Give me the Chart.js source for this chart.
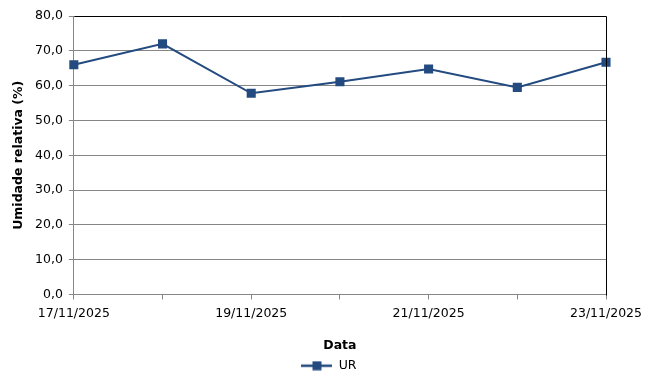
<!DOCTYPE html>
<html>
<head>
<meta charset="utf-8">
<script src="https://cdn.jsdelivr.net/npm/chart.js@4.4.0/dist/chart.umd.min.js"></script>
<style>
  html, body { margin: 0; padding: 0; background: #fff; }
  #wrap { width: 663px; height: 386px; position: relative; }
</style>
</head>
<body>
<div id="wrap"><canvas id="urChart"></canvas></div>
<script>
// data
const dates = ['17/11/2025', '18/11/2025', '19/11/2025', '20/11/2025', '21/11/2025', '22/11/2025', '23/11/2025'];
const urValues = [66.0, 72.0, 57.8, 61.1, 64.8, 59.5, 66.7];
const yTicks = [0, 10, 20, 30, 40, 50, 60, 70, 80];

const lineColor = '#234B80';
const fontFamily = '"DejaVu Sans", Verdana, sans-serif';

// legend symbol: short line with square marker
const legendIcon = document.createElement('canvas');
legendIcon.width = 31;
legendIcon.height = 10;
(function() {
    const c = legendIcon.getContext('2d');
    c.strokeStyle = lineColor;
    c.lineWidth = 2.5;
    c.beginPath();
    c.moveTo(0, 5);
    c.lineTo(31, 5);
    c.stroke();
    c.fillStyle = lineColor;
    c.fillRect(11, 0.5, 9, 9);
})();

// plot area border (top + right in black like Excel)
const plotBorder = {
    id: 'plotBorder',
    afterDatasetsDraw(chart) {
        const a = chart.chartArea;
        const ctx = chart.ctx;
        ctx.save();
        ctx.strokeStyle = '#000';
        ctx.lineWidth = 1;
        ctx.beginPath();
        ctx.moveTo(Math.round(a.left) + 0.5, Math.round(a.top) + 0.5);
        ctx.lineTo(Math.round(a.right) + 0.5, Math.round(a.top) + 0.5);
        ctx.lineTo(Math.round(a.right) + 0.5, Math.round(a.bottom) + 0.5);
        ctx.stroke();
        ctx.restore();
    }
};

Chart.defaults.font.family = fontFamily;
Chart.defaults.font.size = 12.5;
Chart.defaults.color = '#000';

new Chart(document.getElementById('urChart'), {
    type: 'line',
    data: {
        labels: dates,
        datasets: [{
            label: 'UR',
            data: urValues,
            borderColor: lineColor,
            backgroundColor: lineColor,
            borderWidth: 2,
            pointStyle: 'rect',
            pointRadius: 5,
            pointBackgroundColor: lineColor,
            pointBorderColor: lineColor,
            tension: 0,
            clip: false
        }]
    },
    options: {
        responsive: true,
        maintainAspectRatio: false,
        animation: false,
        layout: { padding: { left: 11, right: 16, top: 16, bottom: 4 } },
        plugins: {
            legend: {
                position: 'bottom',
                labels: {
                    usePointStyle: true,
                    pointStyle: legendIcon,
                    pointStyleWidth: 31,
                    boxHeight: 10,
                    padding: 6,
                    font: { size: 12.5 }
                }
            },
            tooltip: { enabled: false }
        },
        scales: {
            x: {
                offset: false,
                grid: {
                    drawOnChartArea: false,
                    drawTicks: true,
                    tickLength: 5,
                    color: '#868686'
                },
                border: { color: '#868686' },
                ticks: {
                    autoSkip: false,
                    maxRotation: 0,
                    padding: 7,
                    callback: function(v, i) { return i % 2 === 0 ? dates[i] : ''; }
                },
                title: {
                    display: true,
                    text: 'Data',
                    font: { weight: 'bold', size: 12.5 },
                    padding: { top: 10, bottom: 0 }
                }
            },
            y: {
                min: 0,
                max: 80,
                afterBuildTicks: function(axis) {
                    axis.ticks = yTicks.map(v => ({ value: v }));
                },
                grid: {
                    color: '#868686',
                    tickLength: 5
                },
                border: { color: '#868686' },
                ticks: {
                    padding: 6,
                    callback: function(v) { return v.toFixed(1).replace('.', ','); }
                },
                title: {
                    display: true,
                    text: 'Umidade relativa (%)',
                    font: { weight: 'bold', size: 12.5 },
                    padding: { top: 0, bottom: 3 }
                }
            },
            // empty right axis, only reserves room like the Excel plot area
            yRight: {
                position: 'right',
                min: 0,
                max: 80,
                grid: { display: false },
                border: { display: false },
                ticks: { display: false },
                afterFit: function(axis) { axis.width = 41; }
            }
        }
    },
    plugins: [plotBorder]
});
</script>
</body>
</html>
